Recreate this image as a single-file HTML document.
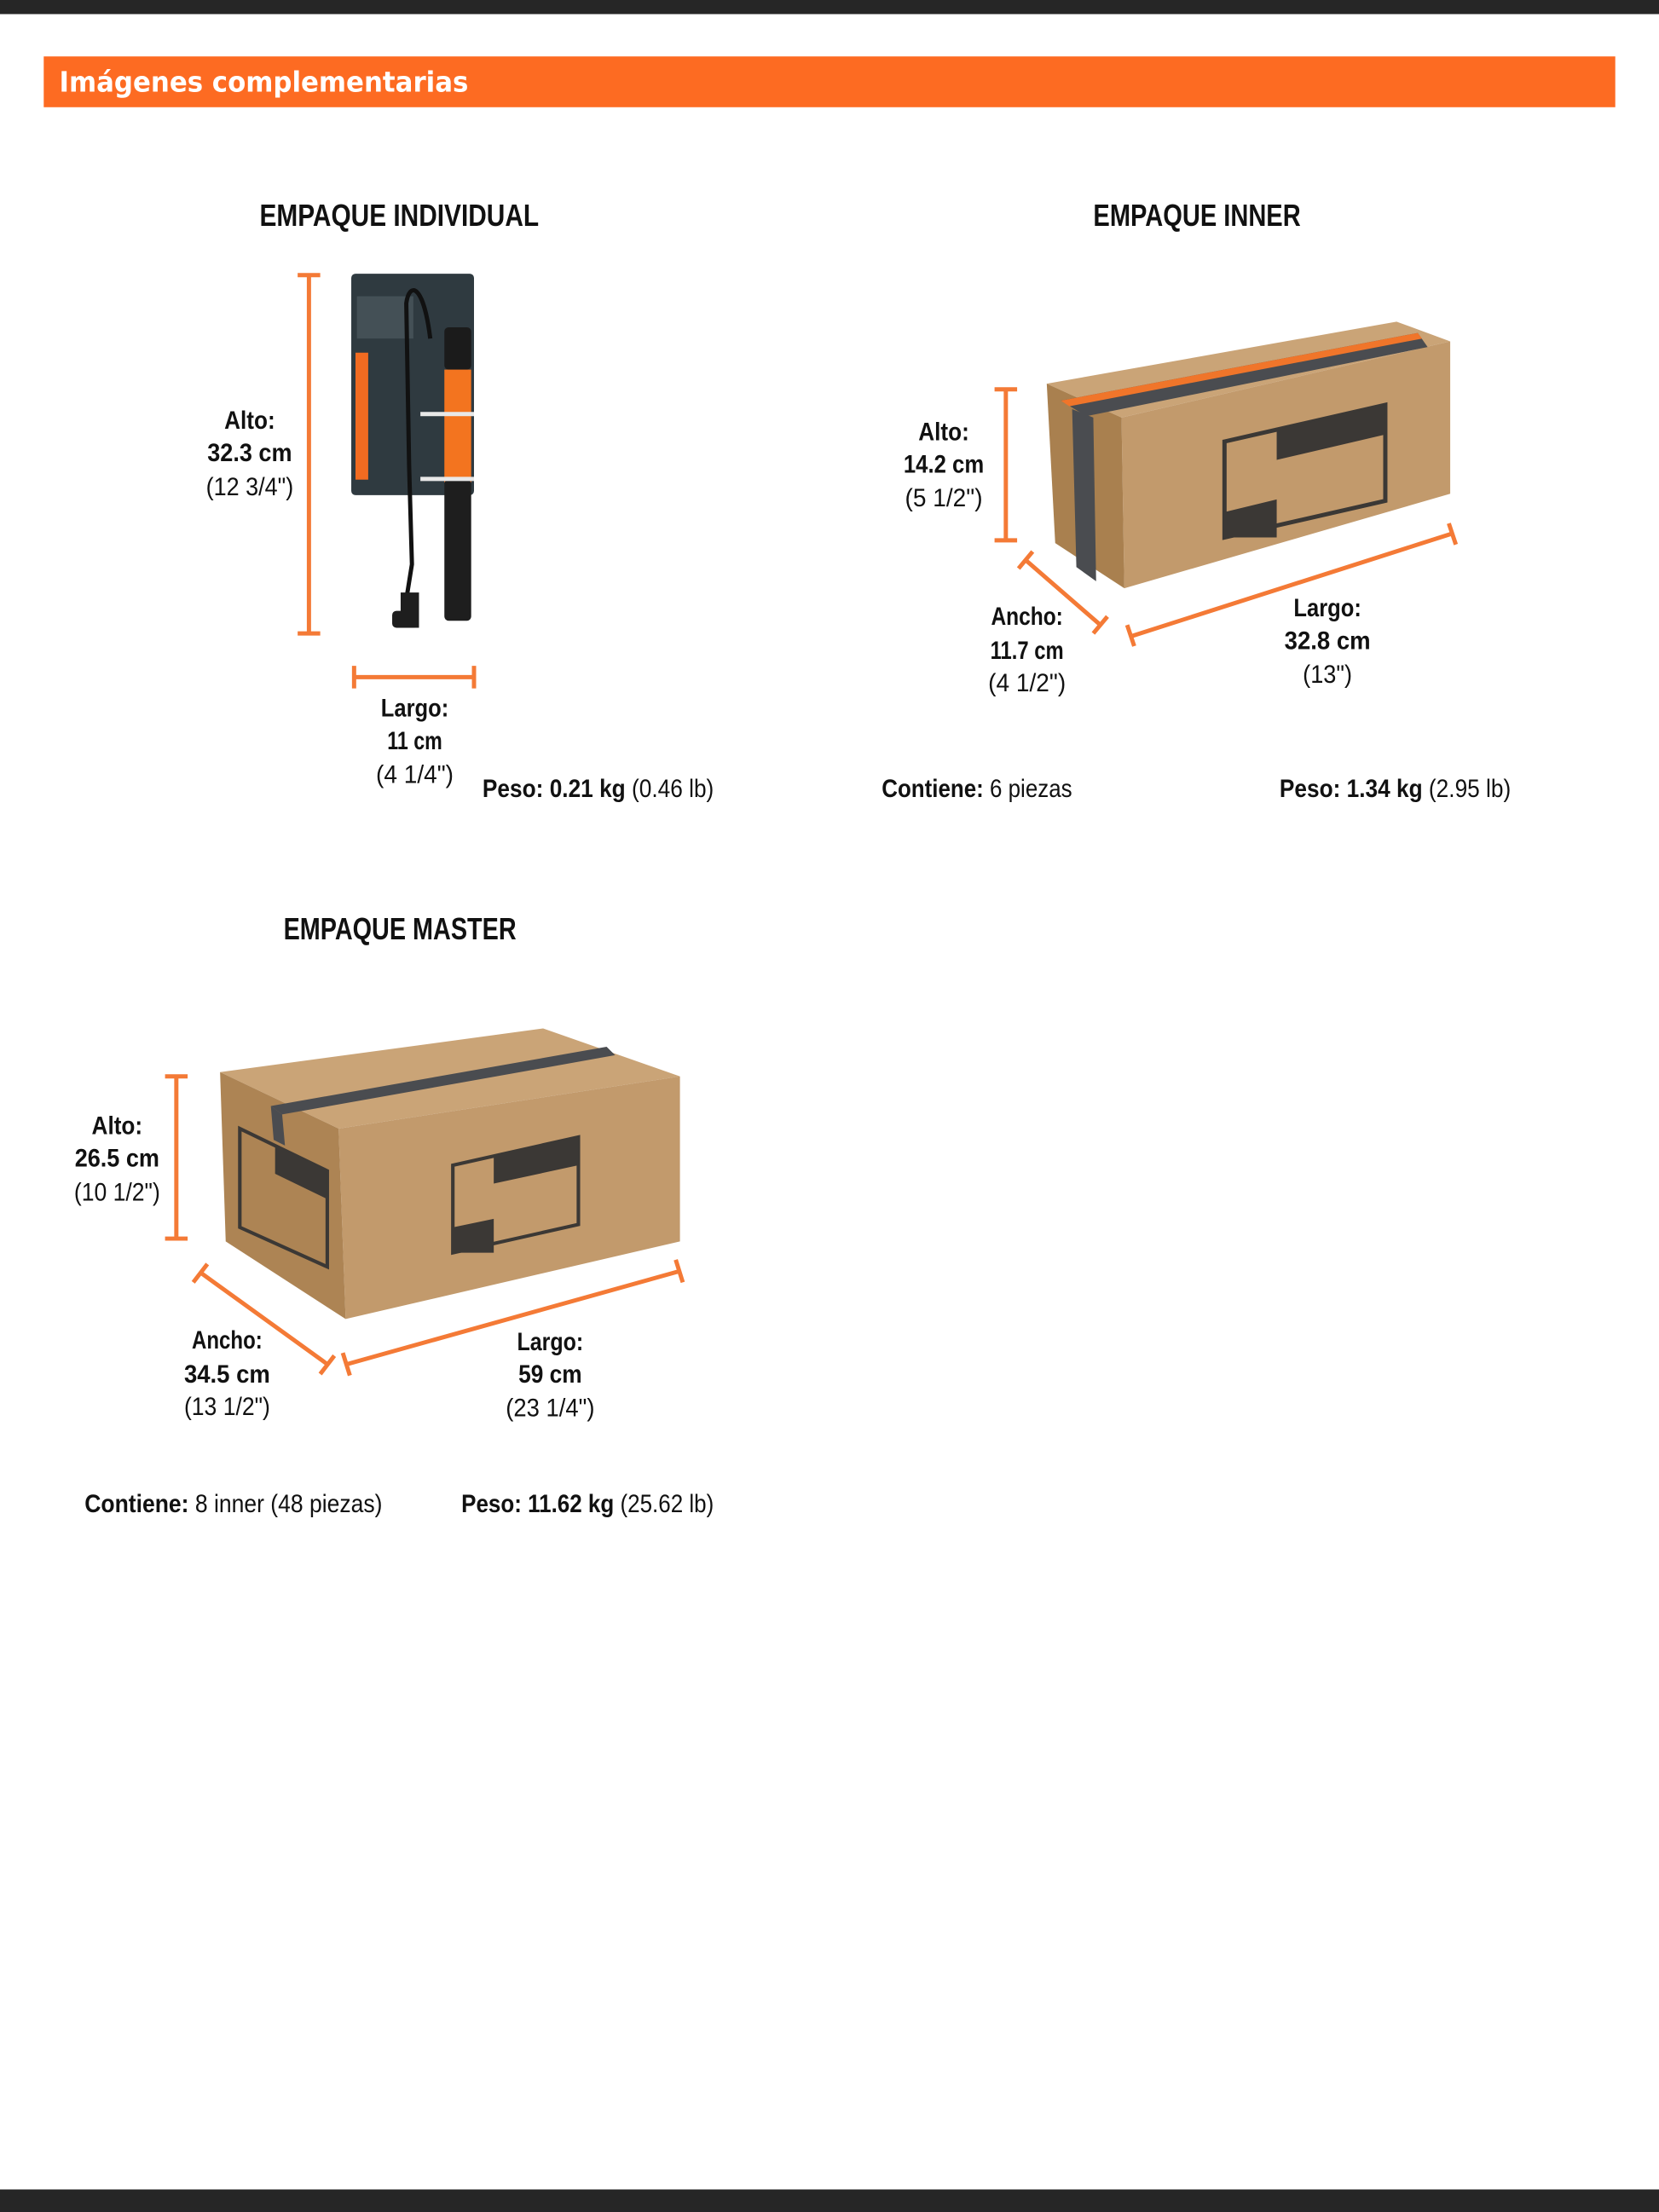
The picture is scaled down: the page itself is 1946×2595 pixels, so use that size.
<!DOCTYPE html>
<html><head><meta charset="utf-8"><style>
html,body{margin:0;padding:0;background:#fff;}
svg{display:block;}
.t{font-family:"Liberation Sans Narrow","Liberation Sans",sans-serif;fill:#111;}
.b{font-weight:bold;}
.h{font-family:"Liberation Sans Narrow","Liberation Sans",sans-serif;font-weight:bold;font-size:22px;fill:#111;}
.d{stroke:#f47a36;stroke-width:3;fill:none;}
</style></head><body>
<svg width="1946" height="2595" viewBox="0 0 1176 1568" preserveAspectRatio="none" xmlns="http://www.w3.org/2000/svg">
<rect x="0" y="0" width="1176" height="1568" fill="#fff"/>
<rect x="0" y="0" width="1176" height="10" fill="#262626"/>
<rect x="0" y="1552" width="1176" height="16" fill="#262626"/>
<rect x="31" y="40" width="1114" height="36" fill="#fd6b22"/>
<text x="42" y="65" font-family="DejaVu Sans, sans-serif" font-weight="bold" font-size="20" fill="#fff" textLength="290" lengthAdjust="spacingAndGlyphs">Imágenes complementarias</text>

<!-- headings -->
<text class="h" x="184" y="160" textLength="198" lengthAdjust="spacingAndGlyphs">EMPAQUE INDIVIDUAL</text>
<text class="h" x="775" y="160" textLength="147" lengthAdjust="spacingAndGlyphs">EMPAQUE INNER</text>
<text class="h" x="201" y="666" textLength="165" lengthAdjust="spacingAndGlyphs">EMPAQUE MASTER</text>

<!-- INDIVIDUAL -->
<path class="d" d="M219 195V449M211 195H227M211 449H227"/>
<path class="d" d="M251 480H336M251 472V488M336 472V488"/>
<rect x="249" y="194" width="87" height="157" rx="3" fill="#2f3a40"/>
<rect x="253" y="210" width="40" height="30" fill="#5a666c" opacity="0.5"/>
<rect x="252" y="250" width="9" height="90" fill="#f26b21"/>
<path d="M305 240 C300 200 290 200 288 215 L290 330 L292 400 L288 425" stroke="#111" stroke-width="3" fill="none"/>
<rect x="315" y="232" width="19" height="30" rx="3" fill="#1b1b1b"/>
<rect x="315" y="262" width="19" height="80" fill="#f3741f"/>
<rect x="315" y="340" width="19" height="100" rx="3" fill="#1e1e1e"/>
<rect x="284" y="420" width="13" height="25" fill="#1e1e1e"/>
<rect x="278" y="433" width="18" height="12" rx="3" fill="#1e1e1e"/>
<rect x="298" y="292" width="38" height="3" fill="#e8e8e8"/>
<rect x="298" y="338" width="38" height="3" fill="#e8e8e8"/>
<g class="t b" font-size="18" text-anchor="middle">
<text x="177" y="304" textLength="36" lengthAdjust="spacingAndGlyphs">Alto:</text>
<text x="177" y="327" textLength="60" lengthAdjust="spacingAndGlyphs">32.3 cm</text>
<text x="294" y="508" textLength="48" lengthAdjust="spacingAndGlyphs">Largo:</text>
<text x="294" y="531" textLength="39" lengthAdjust="spacingAndGlyphs">11 cm</text>
</g>
<g class="t" font-size="18" text-anchor="middle">
<text x="177" y="351" textLength="62" lengthAdjust="spacingAndGlyphs">(12 3/4")</text>
<text x="294" y="555" textLength="55" lengthAdjust="spacingAndGlyphs">(4 1/4")</text>
</g>
<text class="t" font-size="18" x="342" y="565" textLength="164" lengthAdjust="spacingAndGlyphs"><tspan font-weight="bold">Peso: 0.21 kg</tspan> (0.46 lb)</text>

<!-- INNER box -->
<polygon points="742,272 990,228 1028,242 795,296" fill="#caa477"/>
<polygon points="795,296 1028,242 1028,350 797,417" fill="#c29a6c"/>
<polygon points="742,272 795,296 797,417 748,385" fill="#a9804f"/>
<polygon points="752,284 1005,236 1012,246 770,295" fill="#4a4c50"/>
<polygon points="752,284 1005,236 1008,240 758,288" fill="#f0752a"/>
<polygon points="760,290 775,296 777,412 763,402" fill="#4a4c50"/>
<polygon points="868,313 982,287 982,355 868,381" fill="none" stroke="#3b3835" stroke-width="3"/>
<polygon points="905,305 982,287 982,308 905,326" fill="#3b3835"/>
<polygon points="868,363 905,354 905,381 868,381" fill="#3b3835"/>
<path class="d" d="M713 276V383M705 276H721M705 383H721"/>
<path class="d" d="M727 397L780 443M722 403L732 391M775 449L785 437"/>
<path class="d" d="M802 451L1030 378M799 443L804 458M1027 371L1032 386"/>
<g class="t b" font-size="18" text-anchor="middle">
<text x="669" y="312" textLength="36" lengthAdjust="spacingAndGlyphs">Alto:</text>
<text x="669" y="335" textLength="57" lengthAdjust="spacingAndGlyphs">14.2 cm</text>
<text x="728" y="443" textLength="51" lengthAdjust="spacingAndGlyphs">Ancho:</text>
<text x="728" y="467" textLength="52" lengthAdjust="spacingAndGlyphs">11.7 cm</text>
<text x="941" y="437" textLength="48" lengthAdjust="spacingAndGlyphs">Largo:</text>
<text x="941" y="460" textLength="61" lengthAdjust="spacingAndGlyphs">32.8 cm</text>
</g>
<g class="t" font-size="18" text-anchor="middle">
<text x="669" y="359" textLength="55" lengthAdjust="spacingAndGlyphs">(5 1/2")</text>
<text x="728" y="490" textLength="55" lengthAdjust="spacingAndGlyphs">(4 1/2")</text>
<text x="941" y="484" textLength="35" lengthAdjust="spacingAndGlyphs">(13")</text>
</g>
<text class="t" font-size="18" x="625" y="565" textLength="135" lengthAdjust="spacingAndGlyphs"><tspan font-weight="bold">Contiene:</tspan> 6 piezas</text>
<text class="t" font-size="18" x="907" y="565" textLength="164" lengthAdjust="spacingAndGlyphs"><tspan font-weight="bold">Peso: 1.34 kg</tspan> (2.95 lb)</text>

<!-- MASTER box -->
<polygon points="156,760 385,729 482,763 240,800" fill="#caa477"/>
<polygon points="240,800 482,763 482,880 245,935" fill="#c29a6c"/>
<polygon points="156,760 240,800 245,935 160,880" fill="#ad8454"/>
<polygon points="192,784 430,742 436,748 200,790" fill="#4a4c50"/>
<polygon points="192,784 200,790 202,812 194,808" fill="#4a4c50"/>
<polygon points="321,826 410,806 410,868 321,888" fill="none" stroke="#3b3835" stroke-width="2.5"/>
<polygon points="350,819 410,806 410,826 350,839" fill="#3b3835"/>
<polygon points="321,870 350,864 350,888 321,888" fill="#3b3835"/>
<polygon points="170,800 232,830 232,898 170,870" fill="none" stroke="#3b3835" stroke-width="2.5"/>
<polygon points="195,812 232,830 232,850 195,832" fill="#3b3835"/>
<path class="d" d="M125 763V878M117 763H133M117 878H133"/>
<path class="d" d="M142 902L232 967M137 909L147 896M227 974L237 961"/>
<path class="d" d="M246 967L482 901M243 959L248 975M479 893L484 909"/>
<g class="t b" font-size="18" text-anchor="middle">
<text x="83" y="804" textLength="36" lengthAdjust="spacingAndGlyphs">Alto:</text>
<text x="83" y="827" textLength="60" lengthAdjust="spacingAndGlyphs">26.5 cm</text>
<text x="161" y="956" textLength="50" lengthAdjust="spacingAndGlyphs">Ancho:</text>
<text x="161" y="980" textLength="61" lengthAdjust="spacingAndGlyphs">34.5 cm</text>
<text x="390" y="957" textLength="47" lengthAdjust="spacingAndGlyphs">Largo:</text>
<text x="390" y="980" textLength="45" lengthAdjust="spacingAndGlyphs">59 cm</text>
</g>
<g class="t" font-size="18" text-anchor="middle">
<text x="83" y="851" textLength="61" lengthAdjust="spacingAndGlyphs">(10 1/2")</text>
<text x="161" y="1003" textLength="61" lengthAdjust="spacingAndGlyphs">(13 1/2")</text>
<text x="390" y="1004" textLength="63" lengthAdjust="spacingAndGlyphs">(23 1/4")</text>
</g>
<text class="t" font-size="18" x="60" y="1072" textLength="211" lengthAdjust="spacingAndGlyphs"><tspan font-weight="bold">Contiene:</tspan> 8 inner (48 piezas)</text>
<text class="t" font-size="18" x="327" y="1072" textLength="179" lengthAdjust="spacingAndGlyphs"><tspan font-weight="bold">Peso: 11.62 kg</tspan> (25.62 lb)</text>
</svg>
</body></html>
